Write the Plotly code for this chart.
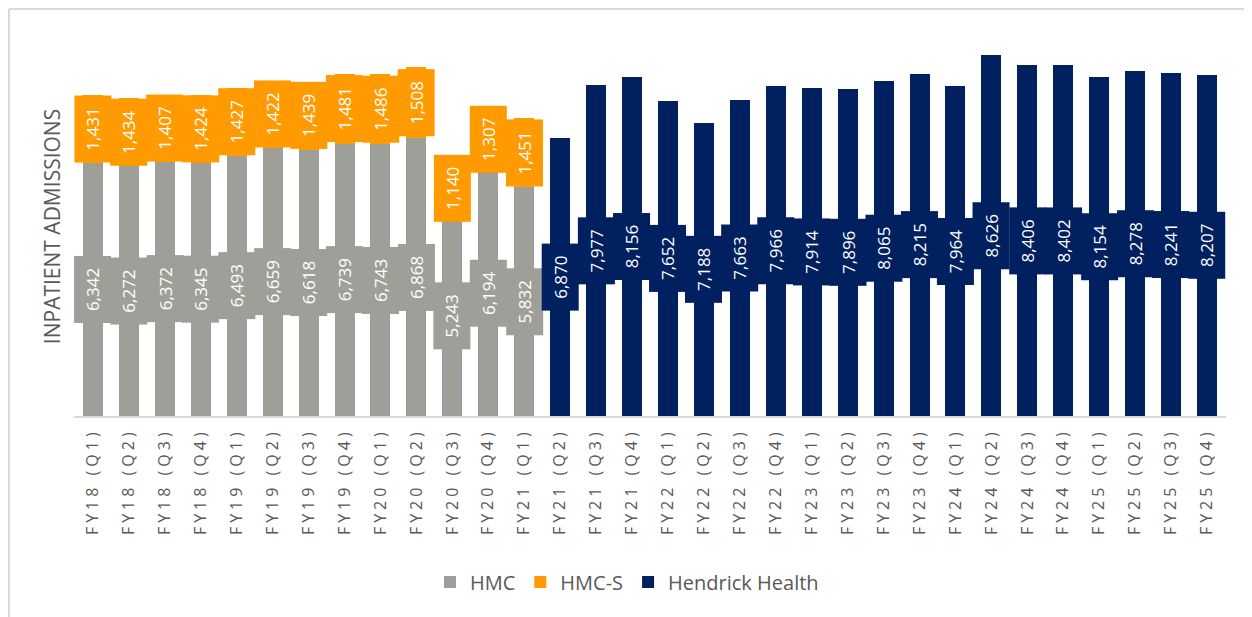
import plotly.graph_objects as go

categories = [
    "FY18 (Q1)", "FY18 (Q2)", "FY18 (Q3)", "FY18 (Q4)",
    "FY19 (Q1)", "FY19 (Q2)", "FY19 (Q3)", "FY19 (Q4)",
    "FY20 (Q1)", "FY20 (Q2)", "FY20 (Q3)", "FY20 (Q4)",
    "FY21 (Q1)", "FY21 (Q2)", "FY21 (Q3)", "FY21 (Q4)",
    "FY22 (Q1)", "FY22 (Q2)", "FY22 (Q3)", "FY22 (Q4)",
    "FY23 (Q1)", "FY23 (Q2)", "FY23 (Q3)", "FY23 (Q4)",
    "FY24 (Q1)", "FY24 (Q2)", "FY24 (Q3)", "FY24 (Q4)",
    "FY25 (Q1)", "FY25 (Q2)", "FY25 (Q3)", "FY25 (Q4)",
]
hmc_categories = categories[:13]
hh_categories = categories[13:]

hmc = [6342, 6272, 6372, 6345, 6493, 6659, 6618, 6739, 6743, 6868, 5243, 6194, 5832]
hmc_s = [1431, 1434, 1407, 1424, 1427, 1422, 1439, 1481, 1486, 1508, 1140, 1307, 1451]
hendrick = [6870, 7977, 8156, 7652, 7188, 7663, 7966, 7914, 7896, 8065,
            8215, 7964, 8626, 8406, 8402, 8154, 8278, 8241, 8207]

tick_labels = ["\u2005".join(list(c)) for c in categories]

C_HMC = "#9F9F9A"
C_HMCS = "#FF9A00"
C_HH = "#002060"
TXT = "#595959"
FONT = "Open Sans"
Y_MIN, Y_MAX = 1000, 9000

W, H = 1244, 609
ML, MR, MT, MB = 66, 26, 29, 201
PW = W - ML - MR
PH = H - MT - MB

fig = go.Figure()
fig.add_trace(go.Bar(x=hmc_categories, y=hmc, name="HMC", marker_color=C_HMC,
                     marker_line_width=0))
fig.add_trace(go.Bar(x=hmc_categories, y=hmc_s, name="HMC-S", marker_color=C_HMCS,
                     marker_line_width=0))
fig.add_trace(go.Bar(x=hh_categories, y=hendrick, name="Hendrick Health",
                     marker_color=C_HH, marker_line_width=0))

def label(x, y, v, color):
    fig.add_annotation(x=x, y=y, xref="x", yref="y", text=f"{v:,}",
                       showarrow=False, textangle=-90, bgcolor=color,
                       font=dict(family=FONT, size=17, color="white"),
                       width=66, height=36, borderpad=0, align="center",
                       valign="middle")

for c, v in zip(hmc_categories, hmc):
    label(c, (Y_MIN + v) / 2, v, C_HMC)
for c, v, s in zip(hmc_categories, hmc, hmc_s):
    label(c, v + s / 2, s, C_HMCS)
for c, v in zip(hh_categories, hendrick):
    label(c, (Y_MIN + v) / 2, v, C_HH)

# chart frame lines (top and left)
fig.add_shape(type="line", xref="paper", yref="paper",
              x0=(1 - ML) / PW, x1=(W - ML) / PW,
              y0=(PH + MT - 1) / PH, y1=(PH + MT - 1) / PH,
              line=dict(color="#D9D9D9", width=2))
fig.add_shape(type="line", xref="paper", yref="paper",
              x0=(1 - ML) / PW, x1=(1 - ML) / PW,
              y0=(PH + MT - 1) / PH, y1=-MB / PH,
              line=dict(color="#D9D9D9", width=2))

fig.update_layout(
    width=W, height=H,
    margin=dict(l=ML, r=MR, t=MT, b=MB, autoexpand=False),
    paper_bgcolor="white", plot_bgcolor="white",
    barmode="stack", bargap=0.444,
    font=dict(family=FONT, color=TXT),
    showlegend=True,
    legend=dict(orientation="h", x=0.48, xanchor="center", y=-0.438,
                yanchor="middle", traceorder="normal", itemwidth=30,
                font=dict(family=FONT, size=20, color=TXT)),
    xaxis=dict(categoryorder="array", categoryarray=categories,
               tickmode="array", tickvals=categories, ticktext=tick_labels,
               tickangle=-90, tickfont=dict(family=FONT, size=16, color=TXT),
               ticklabelstandoff=8, ticks="", showgrid=False,
               showline=True, linecolor="#D9D9D9", linewidth=2,
               zeroline=False),
    yaxis=dict(range=[Y_MIN, Y_MAX], showticklabels=False, showgrid=False,
               zeroline=False, showline=False, ticks="",
               title=dict(text="INPATIENT ADMISSIONS", standoff=6,
                          font=dict(family=FONT, size=21, color=TXT))),
)

fig.write_html("out.html")
